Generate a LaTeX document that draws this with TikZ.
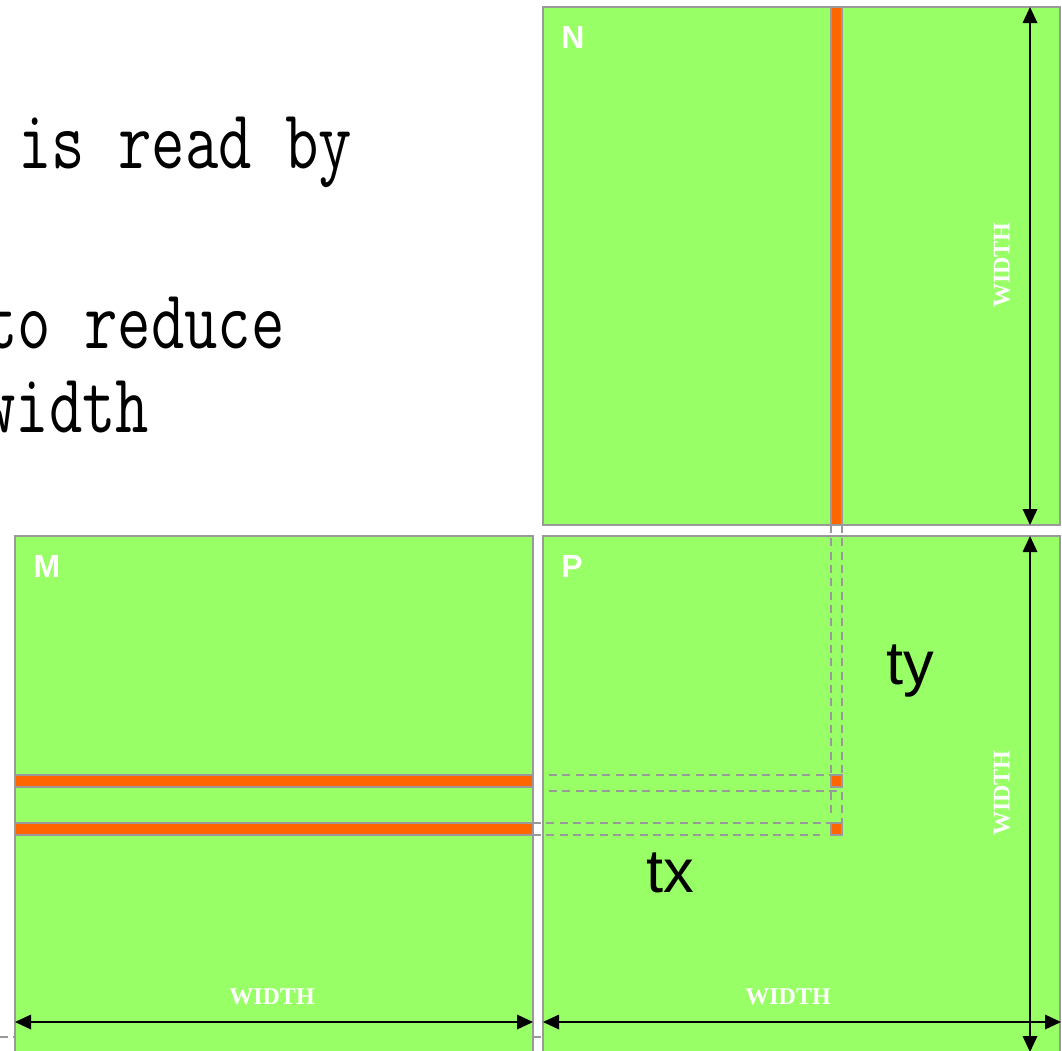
\documentclass[tikz,border=0pt]{standalone}
\usepackage{fontspec}
\setmainfont{Liberation Serif}
\setsansfont{Liberation Sans}
\usetikzlibrary{arrows.meta}
\definecolor{mgreen}{HTML}{99FF66}
\definecolor{morange}{HTML}{FF6600}
\definecolor{mgray}{HTML}{999999}
\begin{document}
\begin{tikzpicture}[x=0.75pt,y=-0.75pt,
  mat/.style={draw=mgray,line width=1.5pt,fill=mgreen},
  strip/.style={draw=mgray,line width=1.1pt,fill=morange},
  proj/.style={draw=mgray,line width=1.1pt,dash pattern=on 6pt off 4pt},
  dim/.style={draw=black,line width=1pt,{Triangle[length=12pt,width=11pt]}-{Triangle[length=12pt,width=11pt]}},
  lbl/.style={text=white,font=\sffamily\bfseries\fontsize{24}{24}\selectfont,inner sep=0},
  wlbl/.style={text=white,font=\rmfamily\bfseries\fontsize{18}{18}\selectfont,inner sep=0},
  big/.style={font=\sffamily\fontsize{46}{46}\selectfont,inner sep=0,anchor=base west},
  mono/.style={font=\ttfamily\fontsize{48.6}{48.6}\selectfont,inner sep=0,anchor=base west}]
\clip (0,0) rectangle (1062,1050);
% text
\node[mono] (t1) at (18,168) {\scalebox{1}[1.3]{is read by}};
\node[mono] (t2) at (-16,348) {\scalebox{1}[1.3]{to reduce}};
\node[mono] (t3) at (-18,432) {\scalebox{1}[1.3]{width}};
% background dashed line
\draw[proj] (0,1037) -- (543,1037);
% matrices
\path[mat] (543,7) rectangle (1060,525);
\path[mat] (15,536) rectangle (533,1062);
\path[mat] (543,536) rectangle (1060,1062);
% strips
\path[strip] (831,7) rectangle (842,525);
\path[strip] (15,775) rectangle (533,787);
\path[strip] (15,823) rectangle (533,835);
% projections
\draw[proj] (549,775) -- (831,775);
\draw[proj] (549,791) -- (837,791);
\draw[proj] (533,823) -- (831,823);
\draw[proj] (533,835) -- (820,835);
\draw[proj] (831,525) -- (831,818);
\draw[proj] (842,525) -- (842,823);
\path[strip] (831,775) rectangle (842,787);
\path[strip] (831,823) rectangle (842,835);
% dimension arrows
\coordinate (nT) at (1030,7);
\coordinate (nB) at (1030,525);
\coordinate (pT) at (1030,536);
\coordinate (pB) at (1030,1052);
\coordinate (mL) at (15,1022);
\coordinate (mR) at (533,1022);
\coordinate (pL) at (543,1022);
\coordinate (pR) at (1061,1022);
\draw[dim] (nT) -- (nB);
\draw[dim] (pT) -- (pB);
\draw[dim] (mL) -- (mR);
\draw[dim] (pL) -- (pR);
% labels
\node[lbl] (labN) at (573,37) {N};
\node[lbl] (labM) at (47,566) {M};
\node[lbl] (labP) at (572,566) {P};
\node[wlbl] (wM) at (272,997) {WIDTH};
\node[wlbl] (wP) at (788,997) {WIDTH};
\node[wlbl,rotate=90] (wN) at (1002,265) {WIDTH};
\node[wlbl,rotate=90] (wPv) at (1002,793) {WIDTH};
\node[big] (ty) at (886,684) {ty};
\node[big] (tx) at (646,892) {tx};
\end{tikzpicture}
\end{document}
